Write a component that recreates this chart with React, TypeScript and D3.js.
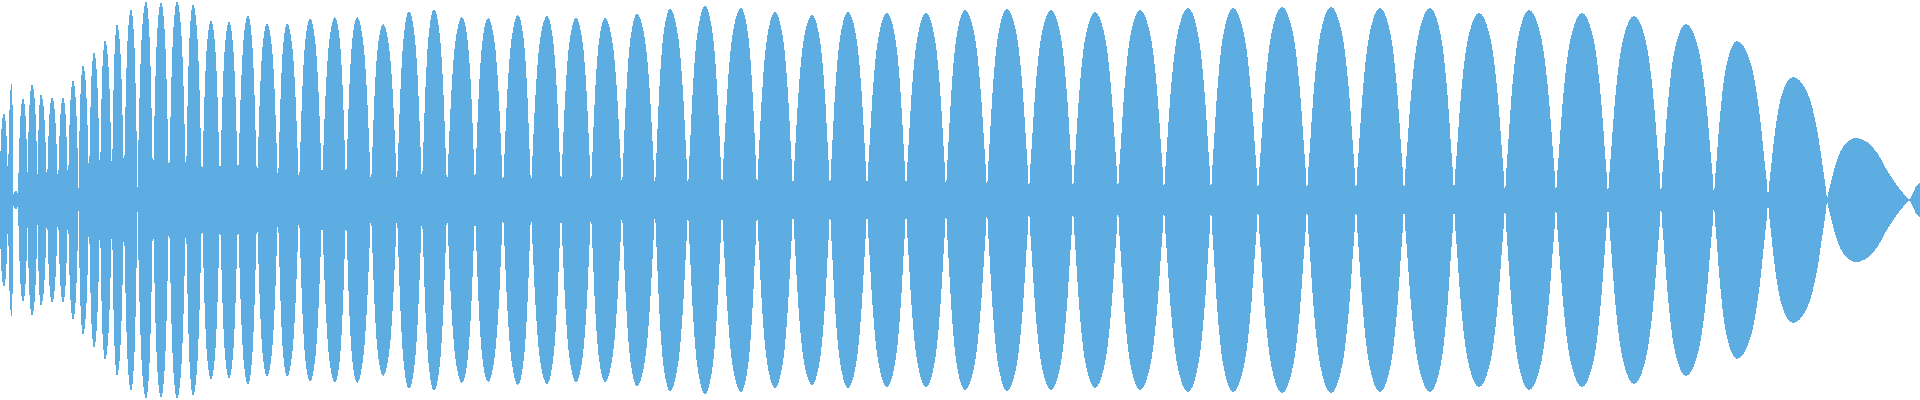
import React from "react";
import * as d3 from "d3";

// Envelope zero crossings (sample position, 0..1920) — lobe boundaries
const crossings = [
  0, 8, 13.5, 18, 27.5, 37.5, 47, 58, 68, 78.5, 89, 100, 112, 124, 137.5, 153, 169, 186, 202, 220,
  238, 257, 278, 299, 322, 346, 371, 397, 422, 447, 475, 503, 531, 561, 591, 622, 655, 688, 722, 757,
  793, 830, 867, 906, 946, 987, 1029, 1073, 1118, 1164, 1211, 1258, 1307, 1356, 1404, 1454, 1505, 1556,
  1608, 1661, 1714, 1768, 1827, 1909, 1920,
];

// Residual amplitude at each crossing
const crossingLevels = [
  35, 15, 6, 5, 28, 25, 10, 9, 10, 11, 15, 16, 15, 15, 12, 10, 8, 12, 8, 10,
  12, 10, 8, 7, 12, 10, 7, 8, 8, 7, 8, 7, 7, 7, 7, 7, 6, 6, 6, 6,
  6, 6, 6, 6, 6, 6, 5, 5, 5, 5, 4, 4, 4, 4, 4, 4, 3, 3,
  2, 2, 2, 1, 0, 0, 17,
];

// Peak position of each lobe
const peakPositions = [
  4, 11.5, 16, 23, 32, 41, 52, 63, 73, 83, 94, 105, 117, 131, 146, 161, 177, 193, 211, 229,
  248, 267, 287, 310, 335, 357, 383, 409, 434, 462, 488, 518, 547, 576, 605, 637, 670, 705, 741, 775,
  812, 848, 887, 926, 965, 1007, 1051, 1095, 1140, 1188, 1233, 1282, 1331, 1380, 1430, 1479, 1529, 1582,
  1634, 1686, 1737, 1793, 1856, 1920,
];

// Peak amplitude of each lobe (full scale = 200)
const peakAmplitudes = [
  87, 116, 9, 102, 116, 106, 103, 103, 120, 135, 148, 160, 176, 191, 199, 198, 199, 196, 180, 179,
  185, 177, 177, 182, 183, 183, 176, 189, 191, 183, 182, 185, 184, 182, 182, 186, 191, 194, 192, 188,
  185, 188, 187, 187, 190, 191, 190, 188, 190, 192, 192, 193, 193, 192, 192, 187, 190, 187,
  184, 176, 159, 123, 62, 17,
];

// Measured lobe flank profile: fraction of flank width (from crossing) vs fraction of height
const flankT = [0, 0.05, 0.1, 0.26, 0.46, 0.65, 0.8, 1];
const flankH = [0, 0.13, 0.22, 0.52, 0.78, 0.91, 0.97, 1];
// Decaying tail flank (last lobes)
const tailT = [0, 0.23, 0.415, 0.6, 1];
const tailH = [0, 0.24, 0.48, 0.76, 1];

const W = 1920;
const H = 400;
const FILL = "#5dade2";

type Pt = { x: number; a: number };

function buildLobe(i: number): Pt[] {
  const x0 = crossings[i];
  const x1 = crossings[i + 1];
  const f0 = crossingLevels[i];
  const f1 = crossingLevels[i + 1];
  const px = peakPositions[i];
  const A = peakAmplitudes[i];
  const last = i === peakAmplitudes.length - 1;
  const nextToLast = i === peakAmplitudes.length - 2;
  const lT = last ? tailT : flankT;
  const lH = last ? tailH : flankH;
  const rT = nextToLast ? tailT : flankT;
  const rH = nextToLast ? tailH : flankH;
  const pts: Pt[] = [];
  if (px - x0 > 0.3) {
    for (let k = 0; k < lT.length; k++) {
      pts.push({ x: x0 + lT[k] * (px - x0), a: f0 + (A - f0) * lH[k] });
    }
  } else {
    pts.push({ x: px, a: A });
  }
  if (x1 - px > 0.3) {
    for (let k = rT.length - 2; k >= 0; k--) {
      pts.push({ x: x1 - rT[k] * (x1 - px), a: f1 + (A - f1) * rH[k] });
    }
  }
  return pts;
}

export default function App() {
  const xScale = d3.scaleLinear().domain([0, 1920]).range([0, W]);
  const yScale = d3.scaleLinear().domain([-200, 200]).range([H, 0]);
  const area = d3
    .area<Pt>()
    .x((d) => xScale(d.x))
    .y0((d) => yScale(-d.a))
    .y1((d) => yScale(d.a))
    .curve(d3.curveMonotoneX);

  const lobes = peakAmplitudes.map((_, i) => buildLobe(i));

  return (
    <svg
      width={W}
      height={H}
      style={{ position: "absolute", left: 0, top: 0, background: "#ffffff" }}
    >
      <g shapeRendering="crispEdges">
        {lobes.map((pts, i) =>
          pts.length > 1 ? <path key={i} d={area(pts) || ""} fill={FILL} /> : null
        )}
      </g>
    </svg>
  );
}
